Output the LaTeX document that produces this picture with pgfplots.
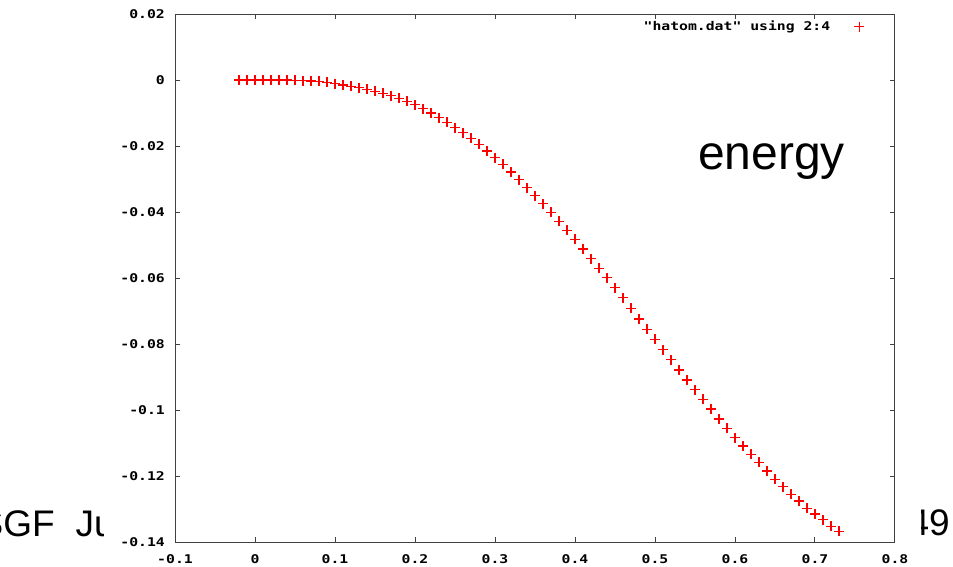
\documentclass[border=0pt]{standalone}
\usepackage{fontspec}
\usepackage{pgfplots}
\pgfplotsset{compat=1.18}
\setmainfont{Liberation Sans}
\newfontfamily\gpfont{DejaVu Sans Mono}[FakeStretch=1.23]
\newcommand\gp{\gpfont\bfseries\fontsize{12}{12}\selectfont}
\pgfplotstableread{
x y
-0.02 0
-0.01 0
0.00 0
0.01 0
0.02 0
0.03 0
0.04 0
0.05 -0.0001
0.06 -0.0002
0.07 -0.0003
0.08 -0.0004
0.09 -0.0007
0.10 -0.0011
0.11 -0.0015
0.12 -0.0019
0.13 -0.0023
0.14 -0.0028
0.15 -0.0034
0.16 -0.0040
0.17 -0.0047
0.18 -0.0056
0.19 -0.0065
0.20 -0.0075
0.21 -0.0087
0.22 -0.0100
0.23 -0.0114
0.24 -0.0128
0.25 -0.0144
0.26 -0.0160
0.27 -0.0177
0.28 -0.0195
0.29 -0.0215
0.30 -0.0235
0.31 -0.0256
0.32 -0.0279
0.33 -0.0302
0.34 -0.0326
0.35 -0.0350
0.36 -0.0375
0.37 -0.0401
0.38 -0.0428
0.39 -0.0455
0.40 -0.0483
0.41 -0.0512
0.42 -0.0541
0.43 -0.0570
0.44 -0.0599
0.45 -0.0629
0.46 -0.0660
0.47 -0.0692
0.48 -0.0724
0.49 -0.0756
0.50 -0.0786
0.51 -0.0817
0.52 -0.0848
0.53 -0.0879
0.54 -0.0909
0.55 -0.0939
0.56 -0.0968
0.57 -0.0997
0.58 -0.1027
0.59 -0.1056
0.60 -0.1084
0.61 -0.1109
0.62 -0.1134
0.63 -0.1159
0.64 -0.1185
0.65 -0.1210
0.66 -0.1232
0.67 -0.1255
0.68 -0.1276
0.69 -0.1298
0.70 -0.1315
0.71 -0.1333
0.72 -0.1352
0.73 -0.1367
}\hatom
\begin{document}
\begin{tikzpicture}[x=1pt,y=1pt]
\useasboundingbox (0,0) rectangle (953,566);
% slide text behind the chart image
\node[anchor=base east, inner sep=0pt, font=\fontsize{37}{37}\selectfont] at (55,29.3) {SGF};
\node[anchor=base west, inner sep=0pt, font=\fontsize{37}{37}\selectfont] at (75.5,29.3) {Ju};
\node[anchor=base east, inner sep=0pt, font=\fontsize{37}{37}\selectfont] at (950,31) {49};
\fill[white] (104,0) rectangle (921,566);
\begin{axis}[
  at={(175pt,24pt)}, anchor=south west,
  scale only axis, width=720pt, height=528pt,
  xmin=-0.1, xmax=0.8, ymin=-0.14, ymax=0.02,
  xtick={-0.1,0,0.1,0.2,0.3,0.4,0.5,0.6,0.7,0.8},
  xticklabels={-0.1,0,0.1,0.2,0.3,0.4,0.5,0.6,0.7,0.8},
  ytick={-0.14,-0.12,-0.1,-0.08,-0.06,-0.04,-0.02,0,0.02},
  yticklabels={-0.14,-0.12,-0.1,-0.08,-0.06,-0.04,-0.02,0,0.02},
  tick align=inside, major tick length=5pt,
  axis line style={black!75, line width=1pt},
  every tick/.style={black!75, line width=1pt},
  tick label style={font=\gp, inner sep=0pt},
  xticklabel style={yshift=-12.5pt},
  yticklabel style={xshift=-10pt},
  legend style={draw=none, fill=none, font=\gp, anchor=east,
    at={(rel axis cs:0.9576,0.976)}, inner sep=0pt,
    /tikz/every odd column/.append style={column sep=22pt}},
  legend plot pos=right,
  legend cell align=right,
]
\addplot[only marks, mark=+, mark size=5pt, color=red, line width=1.2pt] table[x=x,y=y] {\hatom};
\addlegendentry{"hatom.dat" using 2:4}
\end{axis}
\node[anchor=base west, inner sep=0pt, font=\fontsize{48}{48}\selectfont] at (698,396) {energy};
\end{tikzpicture}
\end{document}
